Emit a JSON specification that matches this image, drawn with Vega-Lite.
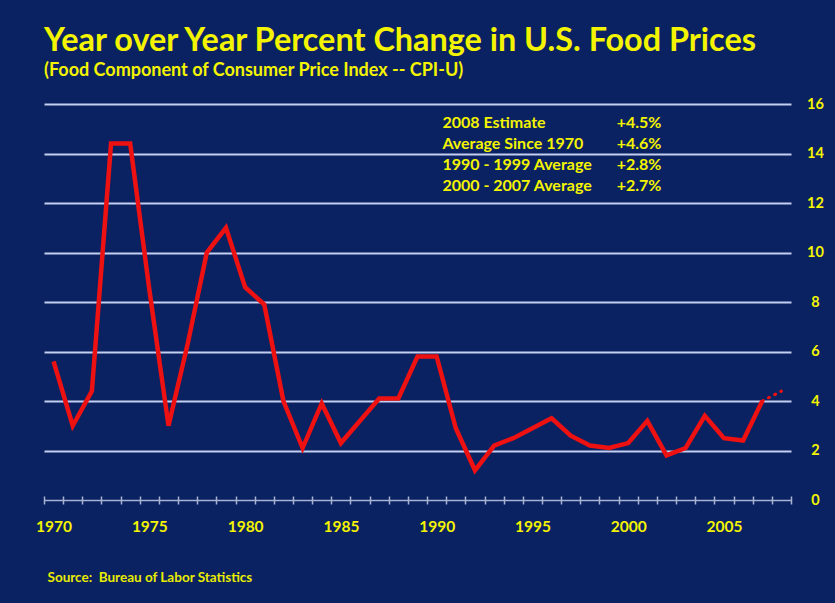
{
  "$schema": "https://vega.github.io/schema/vega-lite/v6.json",
  "width": 747,
  "height": 396,
  "autosize": {"type": "none"},
  "padding": {"left": 44, "top": 104, "right": 44, "bottom": 103},
  "background": "#0a2162",
  "config": {
    "view": {"stroke": null},
    "font": "Lato",
    "title": {"color": "#f4f400", "font": "Lato", "fontWeight": "bold", "subtitleColor": "#f4f400", "subtitleFont": "Lato", "subtitleFontWeight": "bold"}
  },
  "title": {
    "text": "Year over Year Percent Change in U.S. Food Prices",
    "subtitle": "(Food Component of Consumer Price Index -- CPI-U)",
    "anchor": "start",
    "frame": "group",
    "fontSize": 32.4,
    "subtitleFontSize": 18,
    "subtitlePadding": 5,
    "offset": 16,
    "dx": 0
  },
  "datasets": {
    "actual": [
      {"year": 1970, "pct": 5.6}, {"year": 1971, "pct": 3.0}, {"year": 1972, "pct": 4.4},
      {"year": 1973, "pct": 14.4}, {"year": 1974, "pct": 14.4}, {"year": 1975, "pct": 8.5},
      {"year": 1976, "pct": 3.0}, {"year": 1977, "pct": 6.3}, {"year": 1978, "pct": 10.0},
      {"year": 1979, "pct": 11.0}, {"year": 1980, "pct": 8.6}, {"year": 1981, "pct": 7.9},
      {"year": 1982, "pct": 4.0}, {"year": 1983, "pct": 2.1}, {"year": 1984, "pct": 3.9},
      {"year": 1985, "pct": 2.3}, {"year": 1986, "pct": 3.2}, {"year": 1987, "pct": 4.1},
      {"year": 1988, "pct": 4.1}, {"year": 1989, "pct": 5.8}, {"year": 1990, "pct": 5.8},
      {"year": 1991, "pct": 2.9}, {"year": 1992, "pct": 1.2}, {"year": 1993, "pct": 2.2},
      {"year": 1994, "pct": 2.5}, {"year": 1995, "pct": 2.9}, {"year": 1996, "pct": 3.3},
      {"year": 1997, "pct": 2.6}, {"year": 1998, "pct": 2.2}, {"year": 1999, "pct": 2.1},
      {"year": 2000, "pct": 2.3}, {"year": 2001, "pct": 3.2}, {"year": 2002, "pct": 1.8},
      {"year": 2003, "pct": 2.1}, {"year": 2004, "pct": 3.4}, {"year": 2005, "pct": 2.5},
      {"year": 2006, "pct": 2.4}, {"year": 2007, "pct": 4.0}
    ],
    "estimate": [
      {"year": 2007, "pct": 4.0}, {"year": 2008, "pct": 4.4}
    ]
  },
  "layer": [
    {
      "data": {"name": "actual"},
      "mark": {"type": "line", "color": "#ee1111", "strokeWidth": 4.5, "strokeJoin": "miter", "strokeCap": "butt"},
      "encoding": {
        "x": {
          "field": "year", "type": "quantitative",
          "scale": {"domain": [1969.5, 2008.5], "nice": false, "zero": false},
          "axis": {
            "values": [1969.5,1970.5,1971.5,1972.5,1973.5,1974.5,1975.5,1976.5,1977.5,1978.5,1979.5,1980.5,1981.5,1982.5,1983.5,1984.5,1985.5,1986.5,1987.5,1988.5,1989.5,1990.5,1991.5,1992.5,1993.5,1994.5,1995.5,1996.5,1997.5,1998.5,1999.5,2000.5,2001.5,2002.5,2003.5,2004.5,2005.5,2006.5,2007.5,2008.5],
            "tickCount": 100,
            "labelExpr": "(datum.value + 0.5) % 5 === 0 ? toString(datum.value + 0.5) : ''",
            "labelOffset": 9.6,
            "labelOverlap": false,
            "labelFlush": false,
            "labelBound": false,
            "labelColor": "#f4f400",
            "labelFont": "Lato",
            "labelFontWeight": "bold",
            "labelFontSize": 15.5,
            "labelPadding": 15,
            "domain": false,
            "grid": false,
            "offset": -4,
            "tickSize": 8,
            "tickColor": "#a9b4d4",
            "tickWidth": 1.5,
            "title": "Source:\u00a0 Bureau of Labor Statistics",
            "titleColor": "#e8ec00",
            "titleFont": "Lato",
            "titleFontWeight": "bold",
            "titleFontSize": 13.5,
            "titleAnchor": "start",
            "titleAlign": "left",
            "titleBaseline": "middle",
            "titleX": 3,
            "titleY": 81
          }
        },
        "y": {
          "field": "pct", "type": "quantitative",
          "scale": {"domain": [0, 16], "nice": false},
          "axis": {
            "orient": "right",
            "values": [0, 2, 4, 6, 8, 10, 12, 14, 16],
            "domain": false,
            "ticks": false,
            "title": null,
            "labelColor": "#f4f400",
            "labelFont": "Lato",
            "labelFontWeight": "bold",
            "labelFontSize": 14.5,
            "labelAlign": "center",
            "labelPadding": 24,
            "gridColor": {"condition": {"test": "datum.value === 0", "value": "#a9b4d4"}, "value": "#c3cff0"},
            "gridWidth": {"condition": {"test": "datum.value === 0", "value": 1.5}, "value": 2}
          }
        }
      }
    },
    {
      "data": {"name": "estimate"},
      "mark": {"type": "line", "color": "#ee1111", "strokeWidth": 3, "strokeDash": [1, 6], "strokeCap": "round"},
      "encoding": {
        "x": {"field": "year", "type": "quantitative"},
        "y": {"field": "pct", "type": "quantitative"}
      }
    },
    {
      "data": {"values": [{}]},
      "mark": {
        "type": "text",
        "text": ["2008 Estimate", "Average Since 1970", "1990 - 1999 Average", "2000 - 2007 Average"],
        "align": "left",
        "baseline": "top",
        "lineHeight": 21,
        "font": "Lato",
        "fontWeight": "bold",
        "fontSize": 16,
        "color": "#f4f400"
      },
      "encoding": {
        "x": {"datum": 1990.3, "type": "quantitative"},
        "y": {"datum": 15.55, "type": "quantitative"}
      }
    },
    {
      "data": {"values": [{}]},
      "mark": {
        "type": "text",
        "text": ["+4.5%", "+4.6%", "+2.8%", "+2.7%"],
        "align": "left",
        "baseline": "top",
        "lineHeight": 21,
        "font": "Lato",
        "fontWeight": "bold",
        "fontSize": 16,
        "color": "#f4f400"
      },
      "encoding": {
        "x": {"datum": 1999.4, "type": "quantitative"},
        "y": {"datum": 15.55, "type": "quantitative"}
      }
    }
  ]
}
